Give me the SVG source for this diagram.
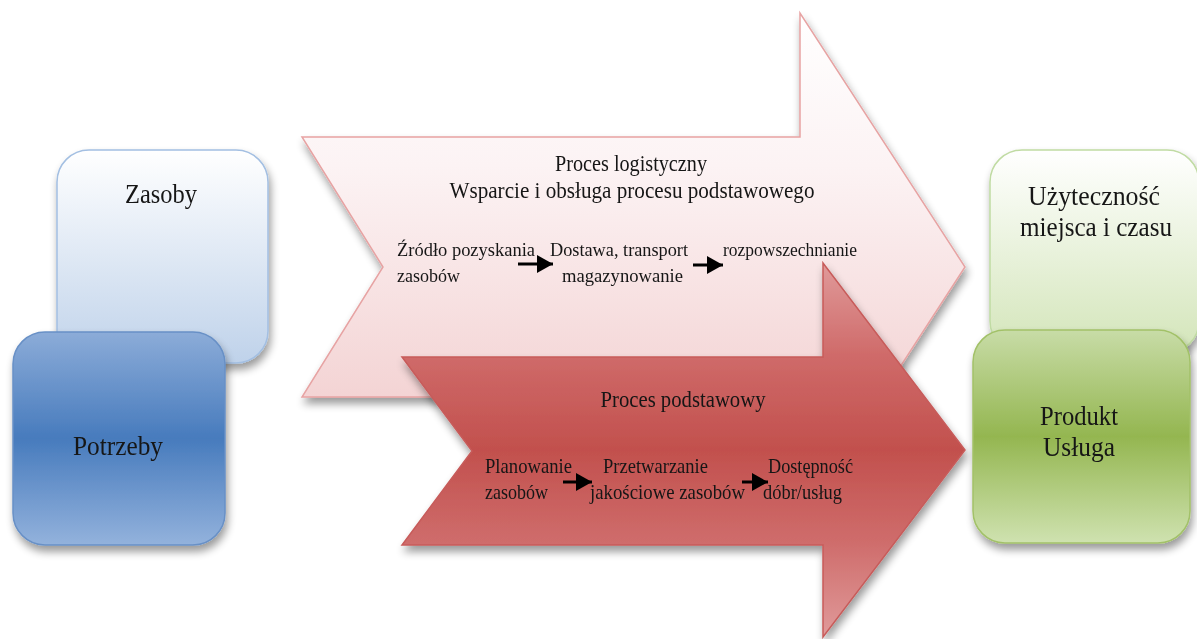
<svg xmlns="http://www.w3.org/2000/svg" width="1197" height="639" viewBox="0 0 1197 639">
<defs>
<linearGradient id="gZas" x1="0" y1="0" x2="0" y2="1"><stop offset="0" stop-color="#ffffff"/><stop offset="1" stop-color="#bfd2ea"/></linearGradient>
<linearGradient id="gPot" x1="0" y1="0" x2="0" y2="1"><stop offset="0" stop-color="#8cacd8"/><stop offset="0.5" stop-color="#477bbd"/><stop offset="1" stop-color="#93b2dc"/></linearGradient>
<linearGradient id="gPink" x1="0" y1="0" x2="0" y2="1"><stop offset="0" stop-color="#ffffff"/><stop offset="0.3" stop-color="#fcf3f4"/><stop offset="1" stop-color="#efc3c3"/></linearGradient>
<linearGradient id="gRed" x1="0" y1="0" x2="0" y2="1"><stop offset="0" stop-color="#e09a9a"/><stop offset="0.25" stop-color="#cf6a69"/><stop offset="0.5" stop-color="#c2504d"/><stop offset="0.75" stop-color="#cf6d6c"/><stop offset="1" stop-color="#e09a9a"/></linearGradient>
<linearGradient id="gUzy" x1="0" y1="0" x2="0" y2="1"><stop offset="0" stop-color="#ffffff"/><stop offset="1" stop-color="#d3e5b9"/></linearGradient>
<linearGradient id="gPro" x1="0" y1="0" x2="0" y2="1"><stop offset="0" stop-color="#c8dca7"/><stop offset="0.5" stop-color="#94b650"/><stop offset="1" stop-color="#cfe2b0"/></linearGradient>
<filter id="sh" x="-10%" y="-10%" width="125%" height="130%">
<feGaussianBlur in="SourceAlpha" stdDeviation="4"/>
<feOffset dx="2" dy="6" result="b"/>
<feComponentTransfer><feFuncA type="linear" slope="0.4"/></feComponentTransfer>
<feMerge><feMergeNode/><feMergeNode in="SourceGraphic"/></feMerge>
</filter>
<marker id="ah" viewBox="0 0 16 18" markerWidth="16" markerHeight="18" refX="16" refY="9" markerUnits="userSpaceOnUse" orient="auto">
<path d="M0,0 L16,9 L0,18 Z" fill="#000"/>
</marker>
</defs>
<style>
text{font-family:"Liberation Serif","Times New Roman",serif;fill:#161616;}
.big{font-size:28px;}
.ttl{font-size:24px;}
.sm{font-size:19px;}
.md{font-size:21px;}
.c{text-anchor:middle;}
.conn line{stroke:#000;stroke-width:3;}
</style>
<rect width="1197" height="639" fill="#ffffff"/>

<g id="zasoby" filter="url(#sh)">
<rect x="57" y="150" width="211" height="213" rx="32" fill="url(#gZas)" stroke="#a3bfe2" stroke-width="1.5"/>
<text class="big c" x="161" y="203" textLength="72" lengthAdjust="spacingAndGlyphs">Zasoby</text>
</g>
<g id="potrzeby" filter="url(#sh)">
<rect x="13" y="332" width="212" height="213" rx="32" fill="url(#gPot)" stroke="#6890c6" stroke-width="1.5"/>
<text class="big c" x="118" y="455" textLength="90" lengthAdjust="spacingAndGlyphs">Potrzeby</text>
</g>

<g id="proces-logistyczny" filter="url(#sh)">
<polygon points="302,137 800,137 800,13 965,267 800,521 800,397 302,397 383,267" fill="url(#gPink)" stroke="#e7a3a3" stroke-width="1.5"/>
<text class="ttl c" x="631" y="171" textLength="152" lengthAdjust="spacingAndGlyphs">Proces logistyczny</text>
<text class="ttl c" x="632" y="198" textLength="365" lengthAdjust="spacingAndGlyphs">Wsparcie i obsługa procesu podstawowego</text>
<text class="sm" x="397" y="256" textLength="138" lengthAdjust="spacingAndGlyphs">Źródło pozyskania</text>
<text class="sm" x="397" y="282" textLength="63" lengthAdjust="spacingAndGlyphs">zasobów</text>
<text class="sm" x="550" y="256" textLength="138" lengthAdjust="spacingAndGlyphs">Dostawa, transport</text>
<text class="sm" x="562" y="282" textLength="121" lengthAdjust="spacingAndGlyphs">magazynowanie</text>
<text class="sm" x="723" y="256" textLength="134" lengthAdjust="spacingAndGlyphs">rozpowszechnianie</text>
</g>

<g id="proces-podstawowy" filter="url(#sh)">
<polygon points="402,357 823,357 823,263 965,450 823,637 823,545 402,545 472,451" fill="url(#gRed)" stroke="#c75b5a" stroke-width="1.5"/>
<text class="ttl c" x="683" y="407" textLength="165" lengthAdjust="spacingAndGlyphs">Proces podstawowy</text>
<text class="md" x="485" y="473" textLength="87" lengthAdjust="spacingAndGlyphs">Planowanie</text>
<text class="md" x="485" y="499" textLength="63" lengthAdjust="spacingAndGlyphs">zasobów</text>
<text class="md" x="603" y="473" textLength="105" lengthAdjust="spacingAndGlyphs">Przetwarzanie</text>
<text class="md" x="590" y="499" textLength="155" lengthAdjust="spacingAndGlyphs">jakościowe zasobów</text>
<text class="md" x="768" y="473" textLength="85" lengthAdjust="spacingAndGlyphs">Dostępność</text>
<text class="md" x="763" y="499" textLength="79" lengthAdjust="spacingAndGlyphs">dóbr/usług</text>
</g>

<g id="uzytecznosc" filter="url(#sh)">
<rect x="990" y="150" width="209" height="203" rx="32" fill="url(#gUzy)" stroke="#c0dba3" stroke-width="1.5"/>
<text class="big c" x="1094" y="205" textLength="132" lengthAdjust="spacingAndGlyphs">Użyteczność</text>
<text class="big c" x="1096" y="236" textLength="152" lengthAdjust="spacingAndGlyphs">miejsca i czasu</text>
</g>
<g id="produkt" filter="url(#sh)">
<rect x="973" y="330" width="217" height="213" rx="32" fill="url(#gPro)" stroke="#a2c168" stroke-width="1.5"/>
<text class="big c" x="1079" y="425" textLength="78" lengthAdjust="spacingAndGlyphs">Produkt</text>
<text class="big c" x="1079" y="456" textLength="72" lengthAdjust="spacingAndGlyphs">Usługa</text>
</g>

<g id="connectors" class="conn">
<line x1="518" y1="264" x2="553" y2="264" marker-end="url(#ah)"/>
<line x1="693" y1="265" x2="723" y2="265" marker-end="url(#ah)"/>
<line x1="563" y1="482" x2="592" y2="482" marker-end="url(#ah)"/>
<line x1="742" y1="482" x2="768" y2="482" marker-end="url(#ah)"/>
</g>
</svg>
